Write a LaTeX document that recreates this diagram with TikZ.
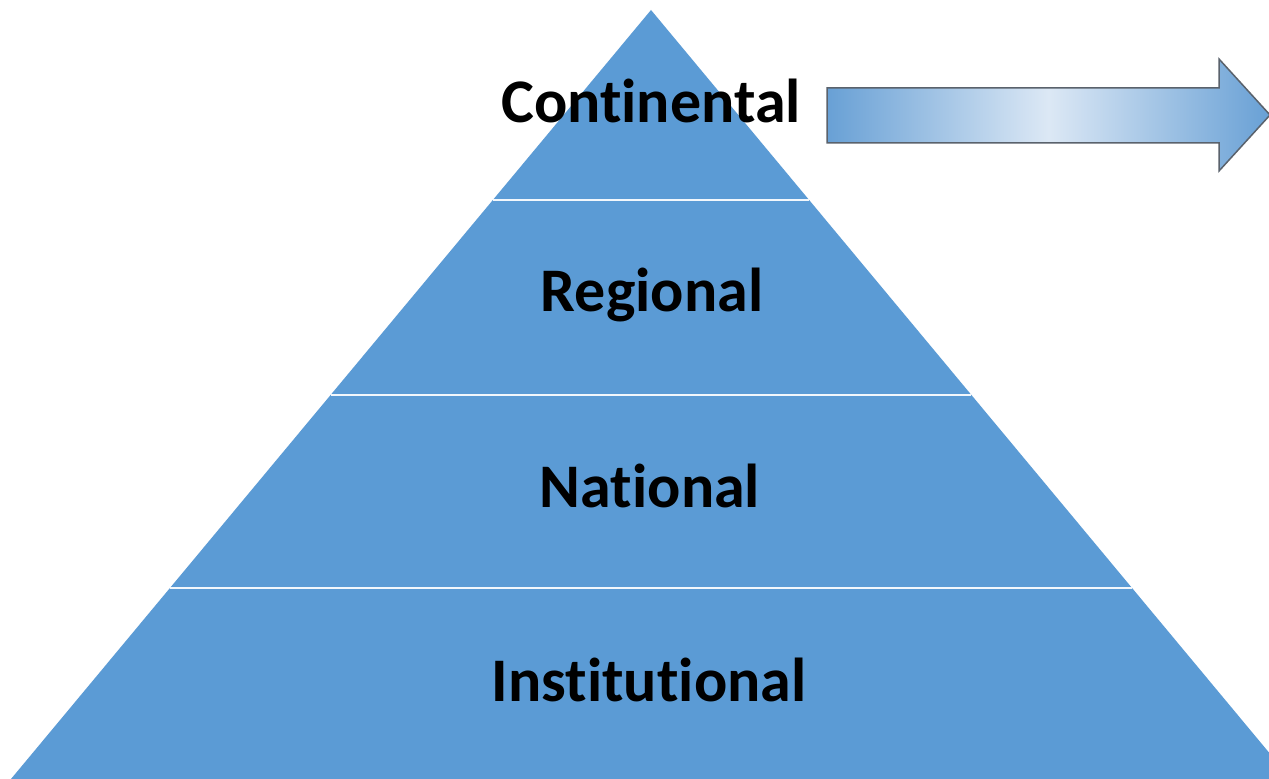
\documentclass[tikz,border=0pt]{standalone}
\usepackage{fontspec}
\setmainfont{Carlito}[Ligatures={NoCommon}]
\definecolor{pyr}{HTML}{5B9BD5}
\definecolor{arrdark}{HTML}{68A0D5}
\definecolor{arrlight}{HTML}{DCE8F5}
\definecolor{arredge}{HTML}{5A626C}
\tikzset{
  layerlabel/.style={anchor=base, inner sep=0pt, font=\fontsize{62}{70}\selectfont\bfseries, text=black},
  sepline/.style={draw=white!92!pyr, line width=2.8pt},
}
\begin{document}
\begin{tikzpicture}[x=1pt,y=1pt]
\clip (0,0) rectangle (1269,779);
\fill[white] (0,0) rectangle (1269,779);
% pyramid
\fill[pyr] (651,769) -- (11,0) -- (1291,0) -- cycle;
% separators
\draw[sepline] (493,579) -- (809,579);
\draw[sepline] (331,384) -- (971,384);
\draw[sepline] (170,191) -- (1132,191);
% labels
\node[layerlabel] (cont) at (651,656) {Continental};
\node[layerlabel] (reg) at (652,467) {Regional};
\node[layerlabel] (nat) at (650,271) {National};
\node[layerlabel] (inst) at (649,77) {Institutional};
% arrow
\path[draw=arredge, line width=1.5pt, left color=arrdark, right color=arrdark, middle color=arrlight]
  (827,691) -- (1219,691) -- (1219,720) -- (1270,664) -- (1219,608) -- (1219,636) -- (827,636) -- cycle;
\end{tikzpicture}
\end{document}
